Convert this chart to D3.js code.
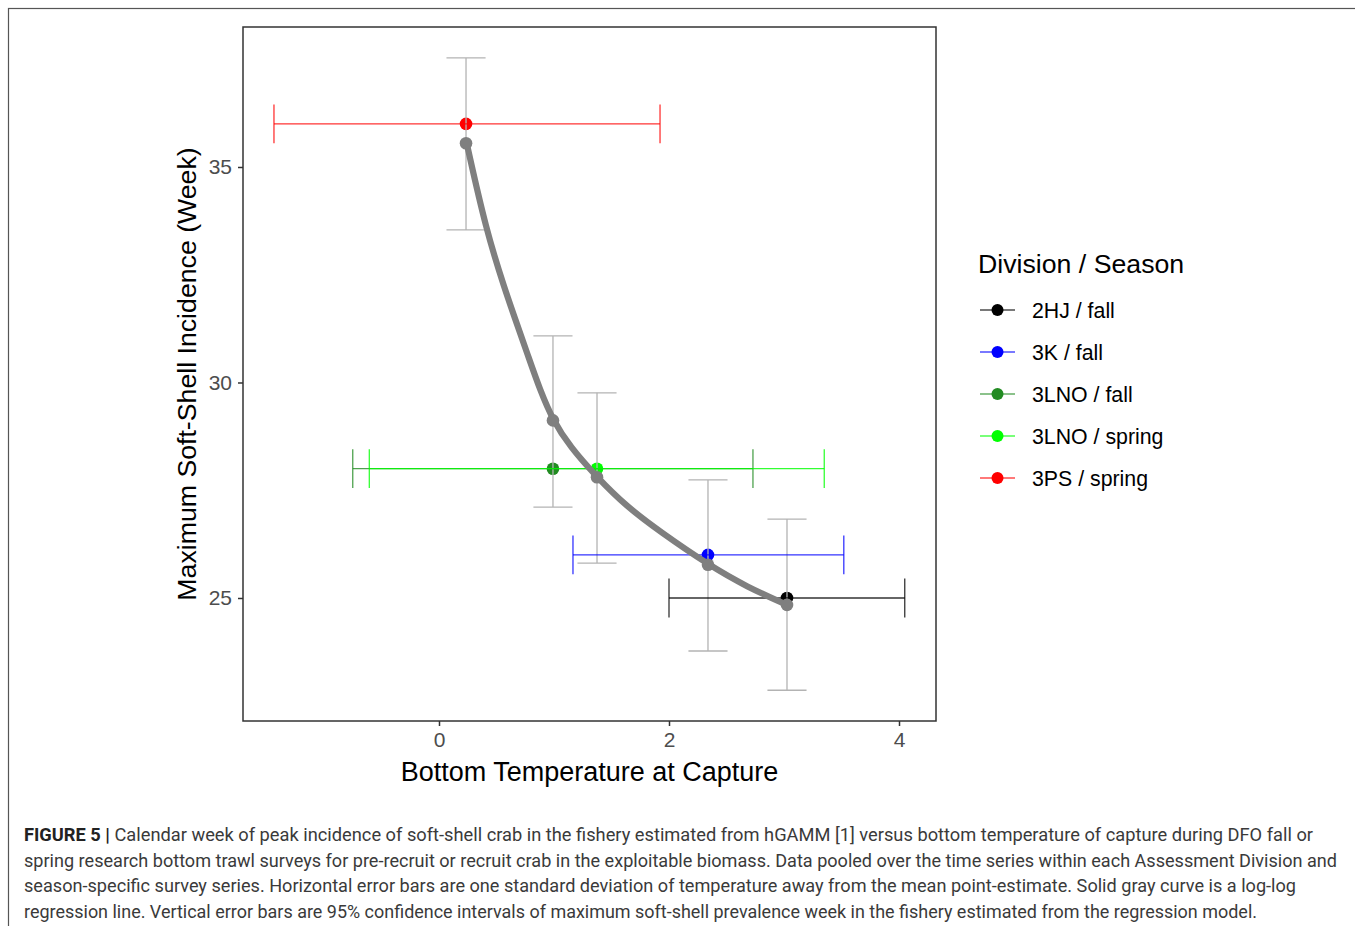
<!DOCTYPE html>
<html>
<head>
<meta charset="utf-8">
<script src="https://cdn.jsdelivr.net/npm/d3@7"></script>
<style>
  html, body { margin: 0; padding: 0; background: #fff; }
  svg { display: block; }
</style>
</head>
<body>
<svg id="chart" width="1355" height="926"></svg>
<script>
// ---- Data ----
const divisions = ["2HJ / fall", "3K / fall", "3LNO / fall", "3LNO / spring", "3PS / spring"];
const divisionColors = ["#000000", "#0000FF", "#228B22", "#00FF00", "#FF0000"];
const tempMean = [3.026, 2.339, 0.991, 1.374, 0.235];
const tempLow  = [2.0, 1.165, -0.75, -0.606, -1.435];
const tempHigh = [4.05, 3.52, 2.73, 3.35, 1.922];
const weekObs  = [25, 26, 28, 28, 36];
const weekFit  = [24.84, 25.77, 29.12, 27.80, 35.55];
const weekLow  = [22.86, 23.77, 27.11, 25.81, 33.54];
const weekHigh = [26.83, 27.74, 31.08, 29.76, 37.53];
// regression curve
const curveTemp = [0.241, 0.409, 0.574, 0.676, 0.777, 0.878, 0.991, 1.139, 1.374, 1.632, 1.922, 2.342, 2.676, 3.026];
const curveWeek = [35.55, 33.54, 32.15, 31.37, 30.60, 29.83, 29.12, 28.51, 27.80, 27.12, 26.54, 25.77, 25.26, 24.84];
const xTicks = [0, 2, 4];
const yTicks = [25, 30, 35];
const xTitle = "Bottom Temperature at Capture";
const yTitle = "Maximum Soft-Shell Incidence (Week)";
const legendTitle = "Division / Season";
const captionBold = "FIGURE 5 |";
const captionLines = [
  " Calendar week of peak incidence of soft-shell crab in the fishery estimated from hGAMM [1] versus bottom temperature of capture during DFO fall or",
  "spring research bottom trawl surveys for pre-recruit or recruit crab in the exploitable biomass. Data pooled over the time series within each Assessment Division and",
  "season-specific survey series. Horizontal error bars are one standard deviation of temperature away from the mean point-estimate. Solid gray curve is a log-log",
  "regression line. Vertical error bars are 95% confidence intervals of maximum soft-shell prevalence week in the fishery estimated from the regression model."
];

// ---- Layout ----
const svg = d3.select("#chart");
const panel = { left: 243, right: 936, top: 27, bottom: 721 };
const x = d3.scaleLinear().domain([-1.7043, 4.3217]).range([panel.left, panel.right]);
const y = d3.scaleLinear().domain([22.146, 38.248]).range([panel.bottom, panel.top]);

const rows = divisions.map((d, i) => ({
  name: d, color: divisionColors[i], t: tempMean[i], tl: tempLow[i], th: tempHigh[i],
  w: weekObs[i], wf: weekFit[i], wl: weekLow[i], wh: weekHigh[i]
}));

// outer figure frame
svg.append("rect").attr("x", 8.5).attr("y", 8.5).attr("width", 1360).attr("height", 930)
  .attr("fill", "none").attr("stroke", "#555").attr("stroke-width", 1.2);

// axes
const font = "'Liberation Sans', Arial, sans-serif";
const xAxis = svg.append("g").attr("transform", `translate(0,${panel.bottom})`)
  .call(d3.axisBottom(x).tickValues(xTicks).tickSize(5).tickPadding(6).tickFormat(d3.format("d")));
const yAxis = svg.append("g").attr("transform", `translate(${panel.left},0)`)
  .call(d3.axisLeft(y).tickValues(yTicks).tickSize(5).tickPadding(6).tickFormat(d3.format("d")));
[xAxis, yAxis].forEach(g => {
  g.select(".domain").remove();
  g.selectAll(".tick line").attr("stroke", "#333").attr("stroke-width", 1.5);
  g.selectAll(".tick text").attr("fill", "#4d4d4d").style("font-family", font).style("font-size", "21px");
});

const plot = svg.append("g");
const capHalfY = 0.45;   // in week units
const capHalfX = 0.17;   // in temperature units

// colored observed points
plot.selectAll("circle.obs").data(rows).join("circle").attr("class", "obs")
  .attr("cx", d => x(d.t)).attr("cy", d => y(d.w)).attr("r", 6.3).attr("fill", d => d.color);

// vertical (gray) error bars
const vb = plot.append("g").attr("stroke", "#b3b3b3").attr("stroke-width", 1.3).attr("fill", "none");
rows.forEach(d => {
  vb.append("line").attr("x1", x(d.t)).attr("x2", x(d.t)).attr("y1", y(d.wl)).attr("y2", y(d.wh));
  vb.append("line").attr("x1", x(d.t - capHalfX)).attr("x2", x(d.t + capHalfX)).attr("y1", y(d.wl)).attr("y2", y(d.wl));
  vb.append("line").attr("x1", x(d.t - capHalfX)).attr("x2", x(d.t + capHalfX)).attr("y1", y(d.wh)).attr("y2", y(d.wh));
});

// horizontal (colored) error bars
rows.forEach(d => {
  const g = plot.append("g").attr("stroke", d.color).attr("stroke-width", 1.3).attr("stroke-opacity", 0.8);
  g.append("line").attr("x1", x(d.tl)).attr("x2", x(d.th)).attr("y1", y(d.w)).attr("y2", y(d.w));
  g.append("line").attr("x1", x(d.tl)).attr("x2", x(d.tl)).attr("y1", y(d.w - capHalfY)).attr("y2", y(d.w + capHalfY));
  g.append("line").attr("x1", x(d.th)).attr("x2", x(d.th)).attr("y1", y(d.w - capHalfY)).attr("y2", y(d.w + capHalfY));
});

// regression curve
const curvePts = curveTemp.map((t, i) => [t, curveWeek[i]]);
plot.append("path").datum(curvePts)
  .attr("d", d3.line().x(d => x(d[0])).y(d => y(d[1])).curve(d3.curveBasis))
  .attr("fill", "none").attr("stroke", "#7f7f7f").attr("stroke-width", 6.2).attr("stroke-linecap", "round");
plot.selectAll("circle.fit").data(rows).join("circle").attr("class", "fit")
  .attr("cx", d => x(d.t)).attr("cy", d => y(d.wf)).attr("r", 6.3).attr("fill", "#7f7f7f");

// panel border
svg.append("rect").attr("x", panel.left).attr("y", panel.top)
  .attr("width", panel.right - panel.left).attr("height", panel.bottom - panel.top)
  .attr("fill", "none").attr("stroke", "#333").attr("stroke-width", 1.5);

// axis titles
svg.append("text").attr("x", 589.5).attr("y", 781)
  .attr("text-anchor", "middle").style("font-family", font).style("font-size", "27px").attr("fill", "#000")
  .text(xTitle);
svg.append("text").attr("transform", `translate(196,${(panel.top + panel.bottom) / 2}) rotate(-90)`)
  .attr("text-anchor", "middle").style("font-family", font).style("font-size", "26.7px").attr("fill", "#000")
  .text(yTitle);

// legend
const lg = svg.append("g");
lg.append("text").attr("x", 978).attr("y", 273).style("font-family", font).style("font-size", "26.7px")
  .attr("fill", "#000").text(legendTitle);
rows.forEach((d, i) => {
  const cy = 310 + i * 42;
  lg.append("line").attr("x1", 980).attr("x2", 1015).attr("y1", cy).attr("y2", cy)
    .attr("stroke", d.color).attr("stroke-width", 1.3).attr("stroke-opacity", 0.7);
  lg.append("circle").attr("cx", 997.5).attr("cy", cy).attr("r", 6).attr("fill", d.color);
  lg.append("text").attr("x", 1032).attr("y", cy + 7.5).style("font-family", font).style("font-size", "21.3px")
    .attr("fill", "#000").text(d.name);
});

// caption
const capFont = "Roboto, 'Liberation Sans Narrow', sans-serif";
const capWidths = [1289, 1313, 1272, 1233];
captionLines.forEach((line, i) => {
  const t = svg.append("text").attr("x", 24).attr("y", 841 + i * 25.7)
    .style("font-family", capFont).style("font-size", "17.5px").attr("fill", "#3a3a3a")
    .attr("textLength", capWidths[i]).attr("lengthAdjust", "spacingAndGlyphs");
  if (i === 0) {
    t.append("tspan").style("font-weight", "bold").attr("fill", "#222").text(captionBold);
  }
  t.append("tspan").text(line);
});
</script>
</body>
</html>
